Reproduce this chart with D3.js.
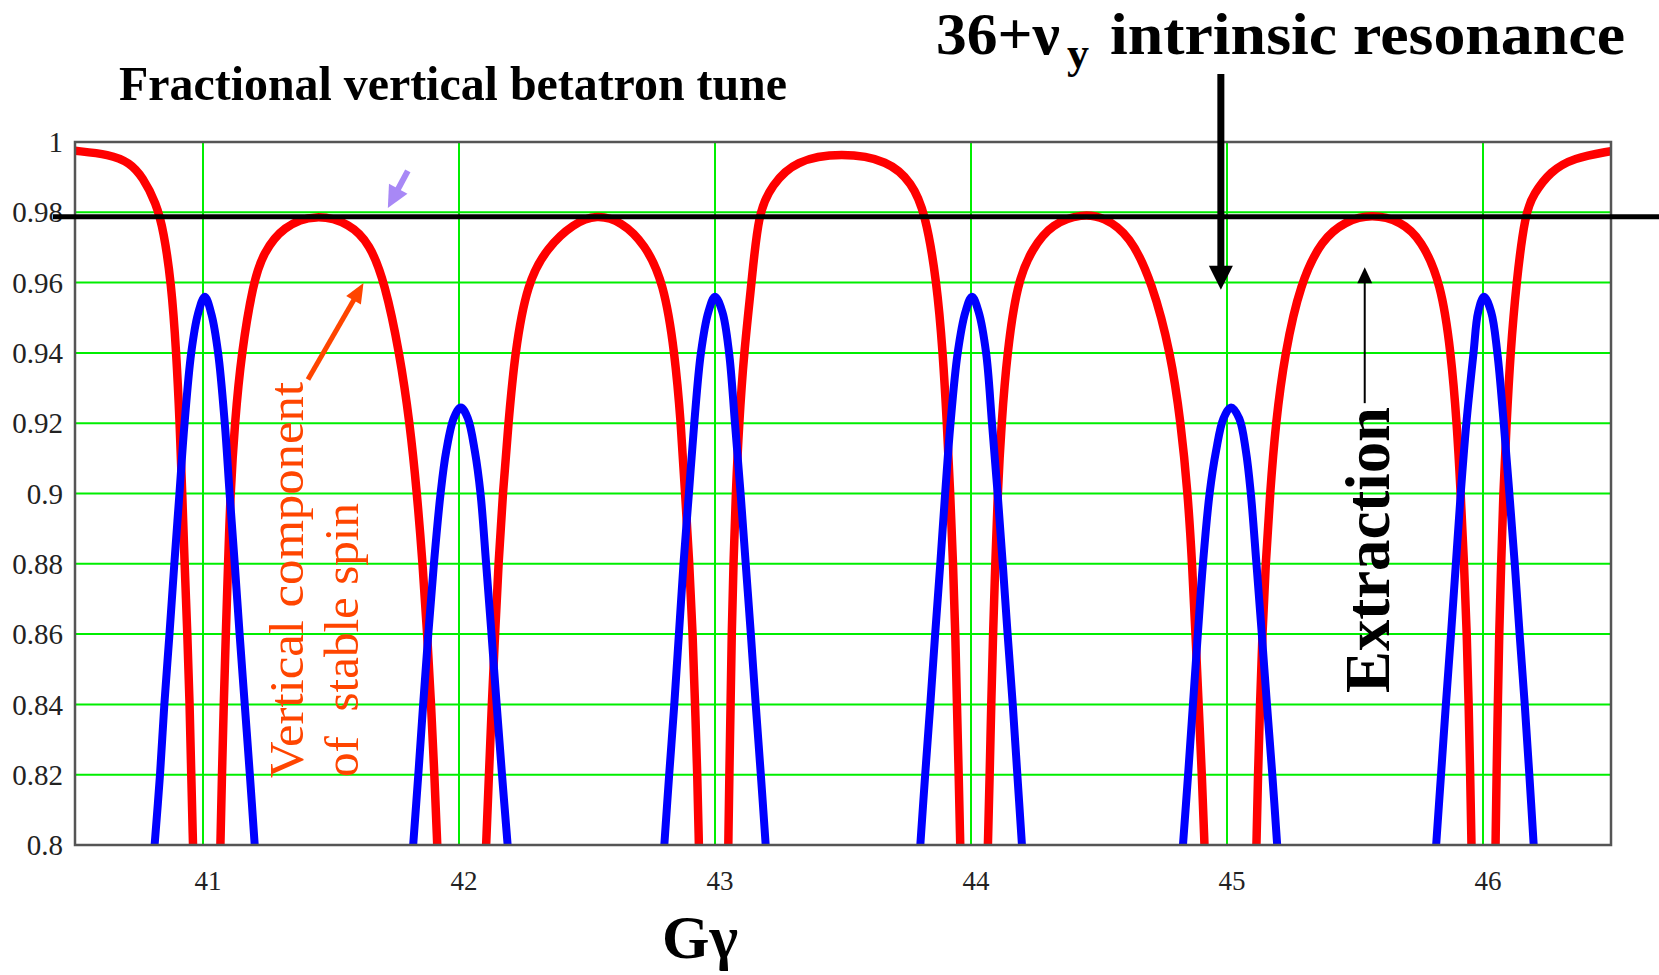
<!DOCTYPE html>
<html>
<head>
<meta charset="utf-8">
<script src="https://cdn.jsdelivr.net/npm/d3@7"></script>
<style>
  body { margin: 0; background: #fff; }
  svg { display: block; font-family: "Liberation Serif", "Times New Roman", serif; }
</style>
</head>
<body>
<div id="chart"></div>
<script>
// axis ticks
var xTicks = [41, 42, 43, 44, 45, 46];
var yTicks = [0.8, 0.82, 0.84, 0.86, 0.88, 0.9, 0.92, 0.94, 0.96, 0.98, 1];
var yTickLabels = ['0.8', '0.82', '0.84', '0.86', '0.88', '0.9', '0.92', '0.94', '0.96', '0.98', '1'];

// level of the horizontal black line (tune at extraction)
var tuneLine = 0.9787;

// vertical component of stable spin, one segment per arch
var redSegments = [
    [[40.50, 0.9975], [40.635, 0.9965], [40.713, 0.9942], [40.765, 0.990], [40.817, 0.9826], [40.846, 0.9748],
     [40.876, 0.96], [40.896, 0.94], [40.909, 0.92], [40.919, 0.90], [40.928, 0.88], [40.939, 0.86],
     [40.948, 0.84], [40.954, 0.82], [40.961, 0.80]],
    [[41.068, 0.80], [41.074, 0.82], [41.081, 0.84], [41.089, 0.86], [41.098, 0.88], [41.107, 0.90],
     [41.124, 0.92], [41.150, 0.94], [41.196, 0.96], [41.235, 0.9684], [41.313, 0.9761], [41.443, 0.9796],
     [41.574, 0.9768], [41.652, 0.971], [41.710, 0.96], [41.768, 0.94], [41.808, 0.92], [41.836, 0.90],
     [41.858, 0.88], [41.876, 0.86], [41.891, 0.84], [41.904, 0.82], [41.915, 0.80]],
    [[42.106, 0.80], [42.117, 0.82], [42.128, 0.84], [42.141, 0.86], [42.154, 0.88], [42.171, 0.90],
     [42.193, 0.92], [42.218, 0.94], [42.266, 0.96], [42.345, 0.970], [42.447, 0.9768], [42.538, 0.9794],
     [42.635, 0.9774], [42.726, 0.971], [42.800, 0.96], [42.843, 0.94], [42.867, 0.92], [42.883, 0.90],
     [42.900, 0.88], [42.913, 0.86], [42.922, 0.84], [42.931, 0.82], [42.937, 0.80]],
    [[43.052, 0.80], [43.056, 0.82], [43.061, 0.84], [43.065, 0.86], [43.072, 0.88], [43.081, 0.90],
     [43.094, 0.92], [43.113, 0.94], [43.143, 0.96], [43.169, 0.98], [43.222, 0.9877], [43.313, 0.9948],
     [43.495, 0.997], [43.678, 0.9948], [43.769, 0.9884], [43.821, 0.98], [43.867, 0.96], [43.890, 0.94],
     [43.906, 0.92], [43.919, 0.90], [43.930, 0.88], [43.939, 0.86], [43.945, 0.84], [43.952, 0.82],
     [43.958, 0.80]],
    [[44.066, 0.80], [44.073, 0.82], [44.079, 0.84], [44.086, 0.86], [44.095, 0.88], [44.104, 0.90],
     [44.119, 0.92], [44.141, 0.94], [44.180, 0.96], [44.239, 0.9697], [44.317, 0.9768], [44.434, 0.9796],
     [44.518, 0.9787], [44.621, 0.9735], [44.708, 0.96], [44.780, 0.94], [44.820, 0.92],
     [44.847, 0.90], [44.864, 0.88], [44.877, 0.86], [44.889, 0.84], [44.902, 0.82], [44.912, 0.80]],
    [[45.115, 0.80], [45.121, 0.82], [45.129, 0.84], [45.138, 0.86], [45.151, 0.88], [45.168, 0.90],
     [45.190, 0.92], [45.226, 0.94], [45.287, 0.96], [45.371, 0.9723], [45.461, 0.9774], [45.565, 0.9796],
     [45.681, 0.9774], [45.758, 0.9723], [45.836, 0.96], [45.875, 0.94], [45.898, 0.92], [45.913, 0.90],
     [45.926, 0.88], [45.937, 0.86], [45.944, 0.84], [45.950, 0.82], [45.955, 0.80]],
    [[46.049, 0.80], [46.053, 0.82], [46.058, 0.84], [46.063, 0.86], [46.071, 0.88], [46.079, 0.90],
     [46.092, 0.92], [46.107, 0.94], [46.130, 0.96], [46.165, 0.98], [46.198, 0.9852], [46.262, 0.9916],
     [46.353, 0.9955], [46.50, 0.9974]]
];

// fractional vertical betatron tune, one peak per integer
var blueSegments = [
    [[40.811, 0.80], [40.832, 0.82], [40.849, 0.84], [40.869, 0.86], [40.888, 0.88], [40.908, 0.90],
     [40.928, 0.92], [40.954, 0.94], [40.980, 0.951], [41.007, 0.956], [41.033, 0.951], [41.059, 0.94],
     [41.085, 0.92], [41.104, 0.90], [41.124, 0.88], [41.143, 0.86], [41.163, 0.84], [41.183, 0.82],
     [41.202, 0.80]],
    [[41.821, 0.80], [41.841, 0.82], [41.860, 0.84], [41.880, 0.86], [41.902, 0.88], [41.928, 0.90],
     [41.950, 0.912], [41.980, 0.9215], [42.007, 0.9245], [42.034, 0.9215], [42.062, 0.912], [42.084, 0.90],
     [42.106, 0.88], [42.127, 0.86], [42.147, 0.84], [42.168, 0.82], [42.190, 0.80]],
    [[42.802, 0.80], [42.821, 0.82], [42.841, 0.84], [42.859, 0.86], [42.877, 0.88], [42.898, 0.90],
     [42.919, 0.92], [42.945, 0.94], [42.974, 0.9516], [43.000, 0.956], [43.029, 0.9516], [43.055, 0.94],
     [43.078, 0.92], [43.100, 0.90], [43.120, 0.88], [43.140, 0.86], [43.159, 0.84], [43.179, 0.82],
     [43.198, 0.80]],
    [[43.802, 0.80], [43.821, 0.82], [43.841, 0.84], [43.860, 0.86], [43.880, 0.88], [43.899, 0.90],
     [43.920, 0.92], [43.948, 0.94], [43.978, 0.9516], [44.004, 0.956], [44.030, 0.9516], [44.059, 0.94],
     [44.082, 0.92], [44.104, 0.90], [44.124, 0.88], [44.143, 0.86], [44.163, 0.84], [44.181, 0.82],
     [44.199, 0.80]],
    [[44.828, 0.80], [44.848, 0.82], [44.867, 0.84], [44.886, 0.86], [44.906, 0.88], [44.932, 0.90],
     [44.957, 0.912], [44.986, 0.9213], [45.016, 0.9245], [45.048, 0.9213], [45.074, 0.912], [45.093, 0.90],
     [45.115, 0.88], [45.136, 0.86], [45.156, 0.84], [45.177, 0.82], [45.196, 0.80]],
    [[45.817, 0.80], [45.836, 0.82], [45.855, 0.84], [45.875, 0.86], [45.894, 0.88], [45.913, 0.90],
     [45.935, 0.92], [45.963, 0.94], [45.981, 0.9516], [46.004, 0.956], [46.032, 0.9516], [46.056, 0.94],
     [46.081, 0.92], [46.103, 0.90], [46.124, 0.88], [46.143, 0.86], [46.163, 0.84], [46.181, 0.82],
     [46.198, 0.80]]
];

var width = 1659, height = 975;
var plot = {left: 75, right: 1611, top: 142, bottom: 845};

var x = d3.scaleLinear()
        .domain([40.5, 46.5])
        .range([plot.left, plot.right]);

var y = d3.scaleLinear()
        .domain([0.8, 1])
        .range([plot.bottom, plot.top]);

var svg = d3.select('#chart')
        .append('svg')
        .attr('width', width)
        .attr('height', height);

svg.append('rect')
        .attr('width', width)
        .attr('height', height)
        .attr('fill', '#fff');

var defs = svg.append('defs');
defs.append('clipPath')
        .attr('id', 'plotclip')
        .append('rect')
        .attr('x', plot.left)
        .attr('y', plot.top)
        .attr('width', plot.right - plot.left)
        .attr('height', plot.bottom - plot.top);

// green grid
var grid = svg.append('g').attr('class', 'grid');
grid.selectAll('line.v')
        .data(xTicks)
        .enter().append('line')
        .attr('x1', function (d) { return x(d); })
        .attr('x2', function (d) { return x(d); })
        .attr('y1', y(0.8))
        .attr('y2', y(1))
        .attr('stroke', '#00ee00')
        .attr('stroke-width', 2);
grid.selectAll('line.h')
        .data(yTicks)
        .enter().append('line')
        .attr('x1', x(40.5))
        .attr('x2', x(46.5))
        .attr('y1', function (d) { return y(d); })
        .attr('y2', function (d) { return y(d); })
        .attr('stroke', '#00ee00')
        .attr('stroke-width', 2);

// curves: red smoothed with a B-spline, blue through its points
var redLine = d3.line()
        .x(function (d) { return x(d[0]); })
        .y(function (d) { return y(d[1]); })
        .curve(d3.curveBasis);

var blueLine = d3.line()
        .x(function (d) { return x(d[0]); })
        .y(function (d) { return y(d[1]); })
        .curve(d3.curveCatmullRom.alpha(0.5));

var curves = svg.append('g').attr('clip-path', 'url(#plotclip)');
curves.selectAll('path.red')
        .data(redSegments)
        .enter().append('path')
        .attr('d', redLine)
        .attr('fill', 'none')
        .attr('stroke', '#ff0000')
        .attr('stroke-width', 8.5);
curves.selectAll('path.blue')
        .data(blueSegments)
        .enter().append('path')
        .attr('d', blueLine)
        .attr('fill', 'none')
        .attr('stroke', '#0000ff')
        .attr('stroke-width', 8);

// frame
svg.append('rect')
        .attr('x', plot.left)
        .attr('y', plot.top)
        .attr('width', plot.right - plot.left)
        .attr('height', plot.bottom - plot.top)
        .attr('fill', 'none')
        .attr('stroke', '#555')
        .attr('stroke-width', 2.5);

// tick labels
svg.append('g').selectAll('text')
        .data(yTicks)
        .enter().append('text')
        .attr('x', 63)
        .attr('y', function (d) { return y(d); })
        .attr('dy', '0.35em')
        .attr('text-anchor', 'end')
        .attr('font-size', 29)
        .attr('fill', '#222')
        .text(function (d, i) { return yTickLabels[i]; });

svg.append('g').selectAll('text')
        .data(xTicks)
        .enter().append('text')
        .attr('x', function (d) { return x(d) + 5; })
        .attr('y', 890)
        .attr('text-anchor', 'middle')
        .attr('font-size', 27)
        .attr('fill', '#222')
        .text(function (d) { return d; });

// horizontal black line
svg.append('line')
        .attr('x1', x(40.414))
        .attr('x2', width)
        .attr('y1', y(tuneLine))
        .attr('y2', y(tuneLine))
        .attr('stroke', '#000')
        .attr('stroke-width', 5);

// arrow helper: shaft plus a triangular head at (x2, y2)
function arrow(x1, y1, x2, y2, color, w, headLen, headW) {
    var dx = x2 - x1, dy = y2 - y1, len = Math.sqrt(dx * dx + dy * dy);
    var ux = dx / len, uy = dy / len;
    var bx = x2 - ux * headLen, by = y2 - uy * headLen;
    svg.append('line')
            .attr('x1', x1).attr('y1', y1)
            .attr('x2', bx + ux * 1).attr('y2', by + uy * 1)
            .attr('stroke', color)
            .attr('stroke-width', w);
    svg.append('polygon')
            .attr('points', [[x2, y2], [bx - uy * headW / 2, by + ux * headW / 2], [bx + uy * headW / 2, by - ux * headW / 2]].join(' '))
            .attr('fill', color);
}

arrow(x(44.976), 74, x(44.976), y(0.958), '#000', 7, 24, 24);
arrow(x(45.538), y(0.9257), x(45.538), y(0.9644), '#000', 2, 16, 15);
arrow(x(41.41), y(0.9324), x(41.627), y(0.9599), '#ff4500', 5, 20, 17);
arrow(x(41.80), y(0.9918), x(41.722), y(0.9812), '#a888f6', 6, 22, 21);

// titles and labels
svg.append('text')
        .attr('x', 119)
        .attr('y', 100)
        .attr('font-size', 49)
        .attr('font-weight', 'bold')
        .attr('textLength', 668)
        .attr('lengthAdjust', 'spacingAndGlyphs')
        .text('Fractional vertical betatron tune');

svg.append('text')
        .attr('x', 936)
        .attr('y', 54)
        .attr('font-size', 60)
        .attr('font-weight', 'bold')
        .attr('textLength', 124)
        .attr('lengthAdjust', 'spacingAndGlyphs')
        .text('36+\u03bd');
svg.append('text')
        .attr('x', 1067)
        .attr('y', 68)
        .attr('font-size', 44)
        .attr('font-weight', 'bold')
        .text('y');
svg.append('text')
        .attr('x', 1110)
        .attr('y', 54)
        .attr('font-size', 60)
        .attr('font-weight', 'bold')
        .attr('textLength', 515)
        .attr('lengthAdjust', 'spacingAndGlyphs')
        .text('intrinsic resonance');

svg.append('text')
        .attr('x', 662)
        .attr('y', 958)
        .attr('font-size', 62)
        .attr('font-weight', 'bold')
        .attr('textLength', 76)
        .attr('lengthAdjust', 'spacingAndGlyphs')
        .text('G\u03b3');

svg.append('text')
        .attr('transform', 'translate(1389,693) rotate(-90)')
        .attr('font-size', 63)
        .attr('font-weight', 'bold')
        .attr('textLength', 286)
        .attr('lengthAdjust', 'spacingAndGlyphs')
        .text('Extraction');

svg.append('text')
        .attr('transform', 'translate(' + x(41.39) + ',778) rotate(-90)')
        .attr('font-size', 49)
        .attr('fill', '#ff4500')
        .attr('textLength', 396)
        .attr('lengthAdjust', 'spacingAndGlyphs')
        .text('Vertical component');
svg.append('text')
        .attr('transform', 'translate(' + x(41.605) + ',777) rotate(-90)')
        .attr('font-size', 49)
        .attr('fill', '#ff4500')
        .attr('textLength', 274)
        .attr('lengthAdjust', 'spacingAndGlyphs')
        .style('white-space', 'pre')
        .text('of  stable spin');
</script>
</body>
</html>
